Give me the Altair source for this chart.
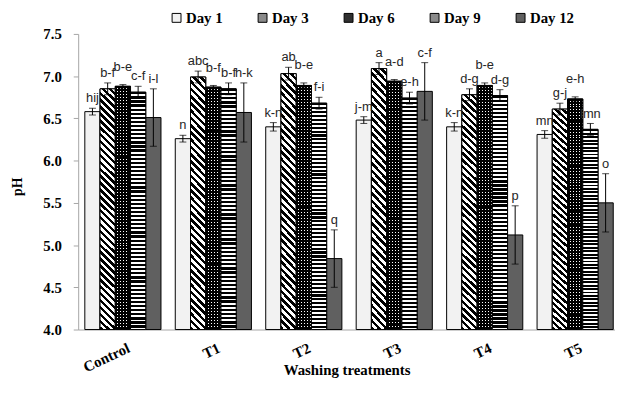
import math
import altair as alt
import pandas as pd

treatments = ["Control", "T1", "T2", "T3", "T4", "T5"]
days = ["Day 1", "Day 3", "Day 6", "Day 9", "Day 12"]

ph_day1 = [6.58, 6.26, 6.40, 6.48, 6.40, 6.31]
ph_day3 = [6.85, 6.99, 7.03, 7.09, 6.78, 6.61]
ph_day6 = [6.88, 6.87, 6.89, 6.94, 6.89, 6.73]
ph_day9 = [6.81, 6.85, 6.68, 6.74, 6.77, 6.37]
ph_day12 = [6.51, 6.57, 4.84, 6.82, 5.12, 5.50]

err_day1 = [0.04, 0.04, 0.05, 0.04, 0.05, 0.045]
err_day3 = [0.07, 0.07, 0.075, 0.07, 0.07, 0.07]
err_day6 = [0.02, 0.02, 0.03, 0.02, 0.03, 0.025]
err_day9 = [0.07, 0.07, 0.07, 0.07, 0.07, 0.07]
err_day12 = [0.34, 0.35, 0.34, 0.34, 0.345, 0.345]

let_day1 = ["hij", "n", "k-n", "j-m", "k-n", "mn"]
let_day3 = ["b-f", "abc", "ab", "a", "d-g", "g-j"]
let_day6 = ["b-e", "b-f", "b-e", "a-d", "b-e", "e-h"]
let_day9 = ["c-f", "b-f", "f-i", "e-h", "d-g", "lmn"]
let_day12 = ["i-l", "h-k", "q", "c-f", "p", "o"]

ph = [ph_day1, ph_day3, ph_day6, ph_day9, ph_day12]
errs = [err_day1, err_day3, err_day6, err_day9, err_day12]
lets = [let_day1, let_day3, let_day6, let_day9, let_day12]

rows = []
for di, d in enumerate(days):
    for ti, t in enumerate(treatments):
        v = ph[di][ti]
        e = errs[di][ti]
        rows.append({"Treatment": t, "Day": d, "pH": v, "lo": v - e, "hi": v + e,
                     "letter": lets[di][ti]})
df = pd.DataFrame(rows)

# ---------- pattern gradients (style only) ----------
def stripe_stops(n, c_on, c_off, frac_on=0.5):
    stops = []
    for i in range(n):
        a = round(i / n, 5)
        b = round((i + frac_on) / n, 5)
        c = round((i + 1) / n, 5)
        stops += [{"offset": a, "color": c_on}, {"offset": b, "color": c_on},
                  {"offset": b, "color": c_off}, {"offset": c, "color": c_off}]
    return stops

BAR_W = 15.4
H_MEAN = 247.0
k = (BAR_W + H_MEAN) / (BAR_W ** 2 + H_MEAN ** 2)
n_diag = int(round((BAR_W + H_MEAN) / math.sqrt(2) / 5.0))
grad_day3 = {"gradient": "linear", "x1": 0, "y1": 1, "x2": round(k * BAR_W, 5),
             "y2": round(1 - k * H_MEAN, 5),
             "stops": stripe_stops(n_diag, "#000000", "#ffffff")}
grad_day9 = {"gradient": "linear", "x1": 0, "y1": 0, "x2": 0, "y2": 1,
             "stops": stripe_stops(58, "#000000", "#ffffff", 0.55)}
grad_day6_a = {"gradient": "linear", "x1": 0, "y1": 0, "x2": 0, "y2": 1,
               "stops": stripe_stops(82, "#000000", "#ffffff", 0.67)}
grad_day6_b = {"gradient": "linear", "x1": 0, "y1": 0, "x2": 1, "y2": 0,
               "stops": stripe_stops(5, "#000000", "rgba(0,0,0,0)", 0.67)}

leg_day3 = {"gradient": "linear", "x1": 0, "y1": 1, "x2": 1, "y2": 0,
            "stops": stripe_stops(3, "#000000", "#ffffff")}
leg_day9 = {"gradient": "linear", "x1": 0, "y1": 0, "x2": 0, "y2": 1,
            "stops": stripe_stops(3, "#000000", "#ffffff")}

fill_range = ["#f2f2f2", "#8a8a8a", "#303030", "#8a8a8a", "#606060"]

SERIF = "Liberation Serif"
SANS = "Liberation Sans"
GRAY = "#a6a6a6"

y_axis = alt.Axis(values=[4.0, 4.5, 5.0, 5.5, 6.0, 6.5, 7.0, 7.5], format=".1f",
                  title="pH", grid=False, domainColor=GRAY, tickColor=GRAY, tickSize=5,
                  labelFont=SERIF, labelFontWeight="bold", labelFontSize=15,
                  labelColor="black", labelPadding=12,
                  titleFont=SERIF, titleFontWeight="bold", titleFontSize=14,
                  titleColor="black", titleX=-57, titleY=154,
                  titleBaseline="alphabetic", titleAngle=270)
x_axis = alt.Axis(title="Washing treatments", labelAngle=-25, labelAlign="right",
                  labelBaseline="top", labelPadding=11, labelOffset=3, ticks=False,
                  domainColor=GRAY, labelFont=SERIF, labelFontWeight="bold",
                  labelFontSize=15, labelColor="black",
                  titleFont=SERIF, titleFontWeight="bold", titleFontSize=15,
                  titleColor="black", titleY=34, titleBaseline="top")


def X():
    return alt.X("Treatment:N", sort=treatments,
                 scale=alt.Scale(domain=treatments, paddingInner=0.158,
                                 paddingOuter=0.0464, align=0.79),
                 axis=x_axis)


def XO():
    return alt.XOffset("Day:N", sort=days,
                       scale=alt.Scale(domain=days, paddingInner=0, paddingOuter=0))


def Y(field):
    return alt.Y(field + ":Q", scale=alt.Scale(domain=[4.0, 7.5], zero=False, nice=False),
                 axis=y_axis)


def build(fancy):
    leg_kwargs = dict(title=None, orient="none", direction="horizontal",
                      legendX=92, legendY=-24, labelFont=SERIF, labelFontWeight="bold",
                      labelFontSize=15, labelColor="black", symbolType="square",
                      symbolSize=81, symbolStrokeColor="black", symbolStrokeWidth=1,
                      columnPadding=32, labelOffset=2, padding=0)
    if fancy:
        leg_kwargs["encoding"] = {"symbols": {
            "fill": {"condition": [
                {"test": "datum.value === 'Day 3'", "value": leg_day3},
                {"test": "datum.value === 'Day 6'", "value": "#303030"},
                {"test": "datum.value === 'Day 9'", "value": leg_day9},
                {"test": "datum.value === 'Day 12'", "value": "#606060"}],
                "value": "#f2f2f2"},
            "stroke": {"value": "black"},
            "strokeWidth": {"value": 1}}}
    legend = alt.Legend(**leg_kwargs)

    base = alt.Chart(df)
    bars = base.mark_bar(stroke="black", strokeWidth=1).encode(
        x=X(), xOffset=XO(), y=Y("pH"), y2=alt.datum(4.0),
        fill=alt.Fill("Day:N", sort=days,
                      scale=alt.Scale(domain=days, range=fill_range), legend=legend),
    )

    def overlay(day, fill, stroke=True):
        kw = dict(fill=fill)
        if stroke:
            kw.update(stroke="black", strokeWidth=1)
        else:
            kw.update(strokeWidth=0)
        return base.transform_filter(alt.datum.Day == day).mark_bar(**kw).encode(
            x=X(), xOffset=XO(), y=Y("pH"), y2=alt.datum(4.0))

    ov3 = overlay("Day 3", grad_day3)
    ov6a = overlay("Day 6", grad_day6_a, stroke=False)
    ov6b = overlay("Day 6", grad_day6_b)
    ov9 = overlay("Day 9", grad_day9)

    rule = base.mark_rule(color="black", strokeWidth=1).encode(
        x=X(), xOffset=XO(), y=Y("lo"), y2="hi:Q")
    cap_lo = base.mark_tick(color="black", size=7, thickness=1).encode(
        x=X(), xOffset=XO(), y=Y("lo"))
    cap_hi = base.mark_tick(color="black", size=7, thickness=1).encode(
        x=X(), xOffset=XO(), y=Y("hi"))
    text_other = base.transform_filter(alt.datum.Day != "Day 6").mark_text(
        font=SANS, fontSize=13, color="#262626", dy=-6, baseline="alphabetic").encode(
        x=X(), xOffset=XO(), y=Y("hi"), text="letter:N")
    text_d6 = base.transform_filter(alt.datum.Day == "Day 6").mark_text(
        font=SANS, fontSize=13, color="#262626", dy=-14, baseline="alphabetic").encode(
        x=X(), xOffset=XO(), y=Y("hi"), text="letter:N")

    chart = alt.layer(bars, ov3, ov6a, ov6b, ov9, rule, cap_lo, cap_hi,
                      text_other, text_d6).properties(
        width=543, height=299,
        padding={"left": 71, "top": 24, "right": 0, "bottom": 65},
        autosize=alt.AutoSizeParams(type="none"),
        background="white",
    ).configure_view(stroke=None)
    return chart


try:
    chart = build(True)
    chart.to_dict()
except Exception:
    chart = build(False)

chart.save("out.html", embed_options={"renderer": "svg", "actions": False})
